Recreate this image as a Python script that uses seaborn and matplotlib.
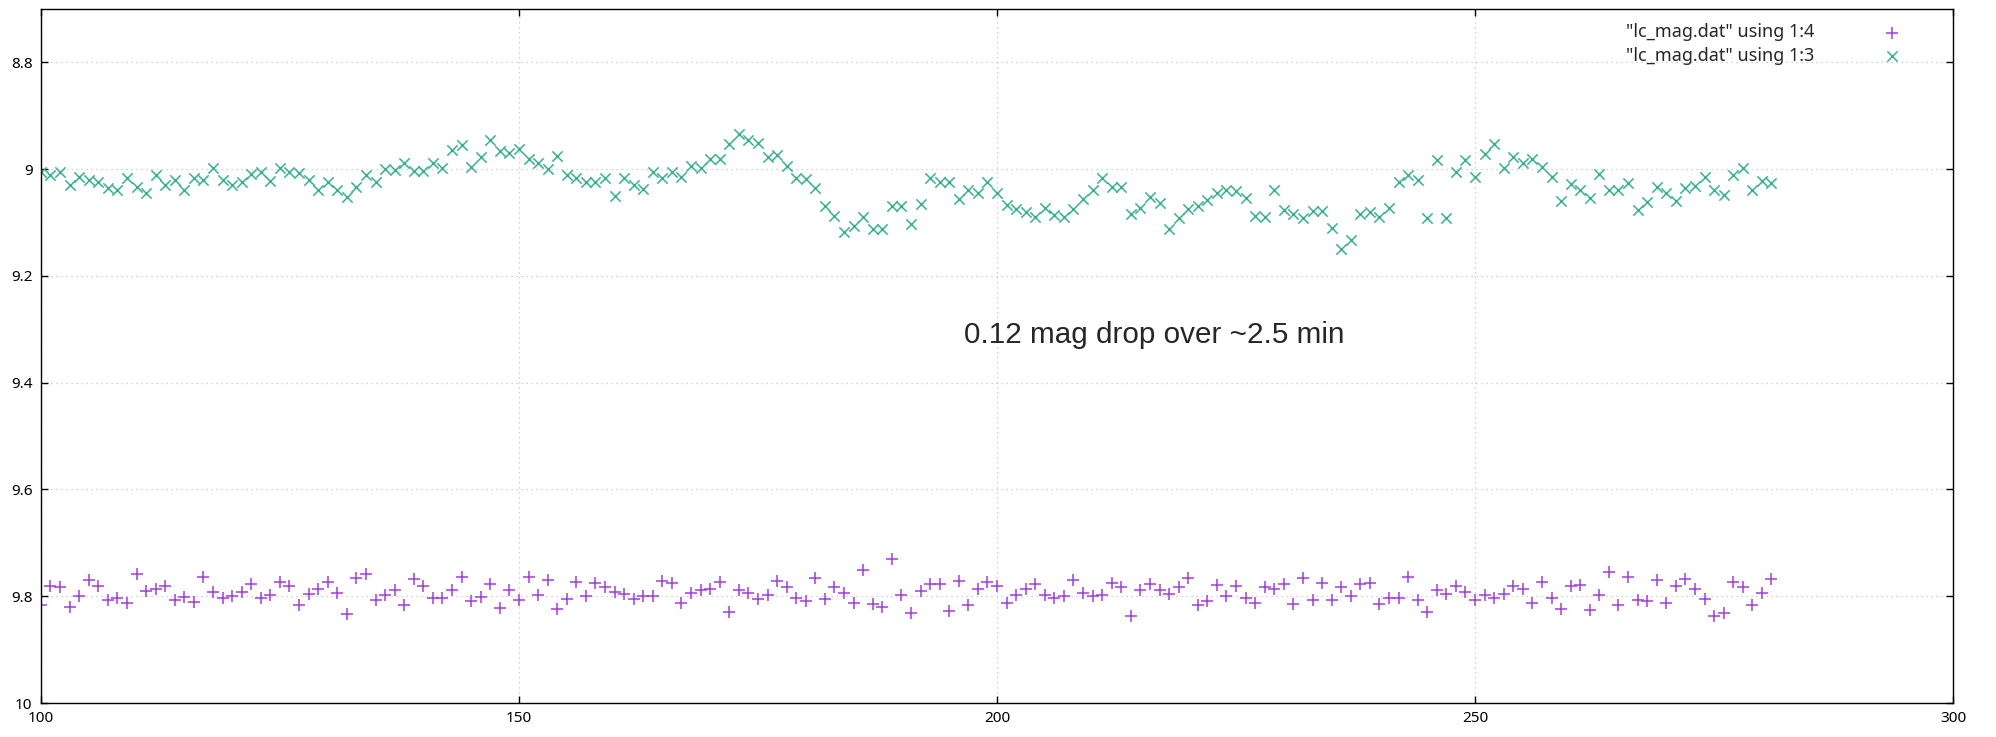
import numpy as np
import matplotlib
matplotlib.use("Agg")
import matplotlib.pyplot as plt
import seaborn as sns
from matplotlib.ticker import FuncFormatter

# time index (one frame per unit)
frames = list(range(100, 282))

# "lc_mag.dat" using 1:3 (green x)
mag_col3 = [
    9.006, 9.011, 9.006, 9.029, 9.014, 9.021, 9.025, 9.036, 9.039, 9.017,
    9.033, 9.044, 9.011, 9.029, 9.021, 9.040, 9.017, 9.021, 8.998, 9.021,
    9.029, 9.025, 9.009, 9.006, 9.022, 8.998, 9.006, 9.008, 9.021, 9.039,
    9.025, 9.039, 9.053, 9.033, 9.012, 9.024, 9.000, 9.002, 8.989, 9.003,
    9.003, 8.989, 8.998, 8.964, 8.955, 8.996, 8.978, 8.946, 8.967, 8.969,
    8.963, 8.981, 8.989, 9.000, 8.975, 9.012, 9.016, 9.024, 9.024, 9.016,
    9.051, 9.016, 9.029, 9.037, 9.006, 9.016, 9.006, 9.014, 8.994, 8.998,
    8.981, 8.981, 8.953, 8.935, 8.946, 8.951, 8.978, 8.973, 8.995, 9.017,
    9.019, 9.036, 9.070, 9.087, 9.117, 9.106, 9.089, 9.112, 9.112, 9.070,
    9.069, 9.102, 9.065, 9.017, 9.024, 9.025, 9.056, 9.040, 9.044, 9.025,
    9.045, 9.067, 9.075, 9.080, 9.089, 9.072, 9.086, 9.089, 9.074, 9.056,
    9.039, 9.016, 9.034, 9.033, 9.085, 9.073, 9.052, 9.064, 9.112, 9.092,
    9.075, 9.070, 9.058, 9.044, 9.040, 9.042, 9.054, 9.087, 9.090, 9.039,
    9.077, 9.084, 9.092, 9.079, 9.078, 9.110, 9.150, 9.133, 9.085, 9.081,
    9.090, 9.073, 9.024, 9.011, 9.020, 9.092, 8.983, 9.092, 9.005, 8.983,
    9.014, 8.972, 8.953, 8.998, 8.978, 8.988, 8.981, 8.996, 9.014, 9.060,
    9.028, 9.040, 9.054, 9.009, 9.039, 9.039, 9.026, 9.076, 9.062, 9.033,
    9.044, 9.059, 9.036, 9.031, 9.014, 9.040, 9.049, 9.011, 8.998, 9.039,
    9.023, 9.026,
]

# "lc_mag.dat" using 1:4 (purple +)
mag_col4 = [
    9.817, 9.781, 9.783, 9.820, 9.800, 9.769, 9.781, 9.807, 9.803, 9.812,
    9.758, 9.791, 9.786, 9.780, 9.807, 9.802, 9.811, 9.764, 9.792, 9.803,
    9.800, 9.792, 9.777, 9.803, 9.797, 9.773, 9.781, 9.817, 9.795, 9.786,
    9.774, 9.794, 9.834, 9.766, 9.758, 9.807, 9.797, 9.789, 9.817, 9.768,
    9.780, 9.803, 9.803, 9.789, 9.764, 9.809, 9.801, 9.777, 9.822, 9.788,
    9.807, 9.764, 9.797, 9.769, 9.824, 9.806, 9.773, 9.800, 9.775, 9.783,
    9.792, 9.795, 9.805, 9.800, 9.800, 9.771, 9.775, 9.812, 9.793, 9.788,
    9.786, 9.773, 9.829, 9.788, 9.794, 9.805, 9.797, 9.771, 9.783, 9.803,
    9.809, 9.766, 9.806, 9.783, 9.794, 9.812, 9.751, 9.814, 9.820, 9.730,
    9.798, 9.831, 9.791, 9.777, 9.777, 9.828, 9.771, 9.817, 9.786, 9.773,
    9.781, 9.812, 9.797, 9.786, 9.777, 9.797, 9.804, 9.800, 9.769, 9.794,
    9.800, 9.797, 9.775, 9.783, 9.836, 9.788, 9.777, 9.788, 9.795, 9.783,
    9.766, 9.816, 9.809, 9.778, 9.800, 9.780, 9.803, 9.812, 9.783, 9.786,
    9.777, 9.814, 9.766, 9.807, 9.775, 9.807, 9.783, 9.800, 9.777, 9.775,
    9.814, 9.803, 9.803, 9.763, 9.807, 9.829, 9.789, 9.795, 9.780, 9.792,
    9.807, 9.797, 9.803, 9.795, 9.781, 9.786, 9.812, 9.773, 9.803, 9.824,
    9.781, 9.778, 9.826, 9.797, 9.755, 9.817, 9.764, 9.807, 9.809, 9.769,
    9.812, 9.781, 9.767, 9.786, 9.805, 9.836, 9.831, 9.774, 9.783, 9.817,
    9.793, 9.767,
]

labels = ['"lc_mag.dat" using 1:4', '"lc_mag.dat" using 1:3']
note = "0.12 mag drop over ~2.5 min"

sns.set_style("ticks")
plt.rcParams['font.family'] = ['Noto Sans', 'DejaVu Sans']

fig = plt.figure(figsize=(19.96, 7.37), dpi=100)
ax = fig.add_axes([0.0205, 0.046, 0.958, 0.942])

purple = '#a23de0'
green = '#35b38c'

sns.scatterplot(x=frames, y=mag_col4, marker='+', s=70, color=purple,
                linewidth=1.1, label=labels[0], ax=ax)
sns.scatterplot(x=frames, y=mag_col3, marker='x', s=55, color=green,
                linewidth=1.1, label=labels[1], ax=ax)

ax.set_xlim(100, 300)
ax.set_ylim(10.0, 8.7)
ax.set_xticks([100, 150, 200, 250, 300])
ax.set_yticks([8.8, 9.0, 9.2, 9.4, 9.6, 9.8, 10.0])
ax.yaxis.set_major_formatter(FuncFormatter(lambda v, p: '%g' % round(v, 2)))

ax.grid(True, color='#c4c4c4', linestyle=(0, (1, 3)), linewidth=0.9)
for s in ax.spines.values():
    s.set_color('black')
    s.set_linewidth(1.0)
ax.tick_params(direction='in', length=5, width=1, top=True, right=True,
               labelsize=11, pad=6, colors='black')
ax.set_xlabel('')
ax.set_ylabel('')

ax.text(196.5, 9.31, note, ha='left', va='center', fontsize=21.3,
        family=['Liberation Sans', 'DejaVu Sans'])

leg = ax.legend(loc='upper right', frameon=False, markerfirst=False,
                fontsize=13, handletextpad=3.3, borderaxespad=0.4,
                labelspacing=0.3, bbox_to_anchor=(0.985, 1.0))

fig.savefig('out.png', dpi=100)
